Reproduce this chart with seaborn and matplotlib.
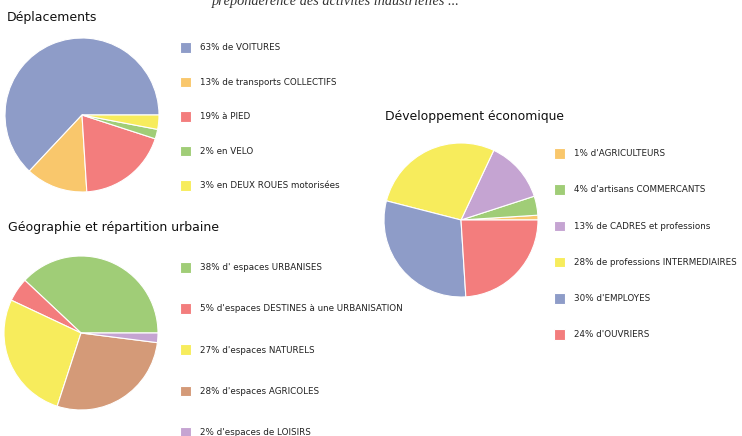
import matplotlib
matplotlib.use("Agg")
import matplotlib.pyplot as plt
import seaborn as sns

# ---------------- data ----------------
dep_labels = ["63% de VOITURES", "13% de transports COLLECTIFS", "19% à PIED",
              "2% en VELO", "3% en DEUX ROUES motorisées"]
dep_values = [63, 13, 19, 2, 3]

geo_labels = ["38% d' espaces URBANISES", "5% d'espaces DESTINES à une URBANISATION",
              "27% d'espaces NATURELS", "28% d'espaces AGRICOLES", "2% d'espaces de LOISIRS"]
geo_values = [38, 5, 27, 28, 2]

eco_labels = ["1% d'AGRICULTEURS", "4% d'artisans COMMERCANTS", "13% de CADRES et professions",
              "28% de professions INTERMEDIAIRES", "30% d'EMPLOYES", "24% d'OUVRIERS"]
eco_values = [1, 4, 13, 28, 30, 24]

titles = ["Déplacements", "Géographie et répartition urbaine", "Développement économique"]
header = "prépondérence des activités industrielles ..."

# ---------------- style ----------------
sns.set_theme(style="white")
plt.rcParams["font.family"] = ["DejaVu Sans"]

BLUE, ORANGE, RED, GREEN, YELLOW, PURPLE, BROWN = (
    "#8e9cc8", "#f9c76c", "#f37d7d", "#a0cd77", "#f7ec5c", "#c5a4d2", "#d49a78")
dep_colors = sns.color_palette([BLUE, ORANGE, RED, GREEN, YELLOW])
geo_colors = sns.color_palette([GREEN, RED, YELLOW, BROWN, PURPLE])
eco_colors = sns.color_palette([ORANGE, GREEN, PURPLE, YELLOW, BLUE, RED])

W, H = 742, 436
fig = plt.figure(figsize=(W / 100, H / 100), dpi=100)
fig.patch.set_facecolor("white")

LEG_FS = 6.3


def px_axes(cx, cy, r):
    return fig.add_axes([(cx - r) / W, (H - cy - r) / H, 2 * r / W, 2 * r / H])


def draw_pie(cx, cy, values, colors, labels, leg_x, leg_top, spacing):
    ax = px_axes(cx, cy, 77)
    wedges, _ = ax.pie(values, colors=colors, startangle=0, counterclock=True,
                       radius=1, wedgeprops=dict(edgecolor="white", linewidth=0.8))
    ax.set_xlim(-1, 1)
    ax.set_ylim(-1, 1)
    ax.set_aspect("equal")
    ax.axis("off")
    fig.legend(wedges, labels, loc="upper left",
               bbox_to_anchor=(leg_x / W, 1 - leg_top / H),
               bbox_transform=fig.transFigure, frameon=False,
               fontsize=LEG_FS, handlelength=1.25, handleheight=1.49,
               handletextpad=1.05, labelspacing=spacing, borderpad=0,
               borderaxespad=0, labelcolor="#222222")
    return ax


draw_pie(82, 115, dep_values, dep_colors, dep_labels, 180, 42, 2.73)
draw_pie(81, 333, geo_values, geo_colors, geo_labels, 180, 262, 3.5)
draw_pie(461, 220, eco_values, eco_colors, eco_labels, 554, 148, 2.93)

fig.text(7 / W, 1 - 21 / H, titles[0], fontsize=9, va="baseline", ha="left", color="#111111")
fig.text(8 / W, 1 - 231 / H, titles[1], fontsize=9, va="baseline", ha="left", color="#111111")
fig.text(385 / W, 1 - 120 / H, titles[2], fontsize=8.9, va="baseline", ha="left", color="#111111")

fig.text(212 / W, 1 - 4.5 / H, header, fontsize=10.3, va="baseline", ha="left",
         family=["Liberation Serif"], style="italic", color="#333333")

fig.savefig("out.png", dpi=100, facecolor="white")
